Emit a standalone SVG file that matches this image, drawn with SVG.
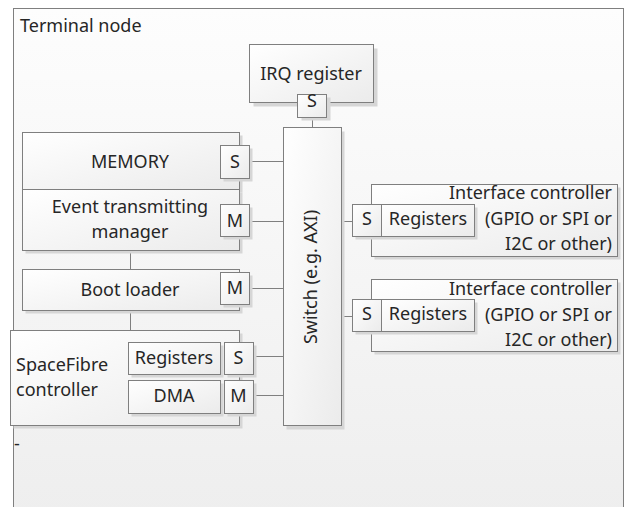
<svg xmlns="http://www.w3.org/2000/svg" width="625" height="507" viewBox="0 0 625 507">
<defs>
<linearGradient id="gFrame" x1="0" y1="0" x2="0" y2="1"><stop offset="0" stop-color="#fdfdfd"/><stop offset="1" stop-color="#eeeeee"/></linearGradient>
<linearGradient id="gBox" x1="0" y1="0" x2="1" y2="1"><stop offset="0" stop-color="#ffffff"/><stop offset="1" stop-color="#ebebeb"/></linearGradient>
</defs>
<style>
.frame{fill:url(#gFrame);stroke:#7f7f7f;stroke-width:1}
.box{fill:url(#gBox);stroke:#7f7f7f;stroke-width:1}
.sh{fill:#d6d6d6;stroke:none}
.ln{stroke:#7f7f7f;stroke-width:1;fill:none}
text{font-family:"Noto Sans","Open Sans","Liberation Sans",sans-serif;font-size:18px;fill:#262626}
.c{text-anchor:middle}
.r{text-anchor:end}
</style>
<g id="terminal-node">
<rect class="frame" x="13.5" y="8.5" width="610" height="510"/>
<text x="20" y="32">Terminal node</text>
<text x="14" y="450" font-size="8">-</text>
</g>
<g id="connectors">
<line class="ln" x1="312.5" y1="117" x2="312.5" y2="127"/>
<line class="ln" x1="249" y1="161.5" x2="283" y2="161.5"/>
<line class="ln" x1="249" y1="221.5" x2="283" y2="221.5"/>
<line class="ln" x1="249" y1="288.5" x2="283" y2="288.5"/>
<line class="ln" x1="253" y1="356.5" x2="283" y2="356.5"/>
<line class="ln" x1="253" y1="395.5" x2="283" y2="395.5"/>
<line class="ln" x1="341" y1="221.5" x2="352" y2="221.5"/>
<line class="ln" x1="341" y1="316.5" x2="352" y2="316.5"/>
<line class="ln" x1="130.5" y1="250" x2="130.5" y2="269"/>
<line class="ln" x1="130.5" y1="310" x2="130.5" y2="330"/>
</g>
<g id="irq-register">
<rect class="sh" x="253.5" y="48.5" width="124" height="58"/>
<rect class="box" x="249.5" y="44.5" width="124" height="58"/>
<text class="c" x="311" y="80">IRQ register</text>
<rect class="sh" x="301.5" y="97.5" width="29" height="23"/>
<rect class="box" x="297.5" y="94.5" width="29" height="23"/>
<text class="c" x="312" y="107">S</text>
</g>
<g id="switch">
<rect class="sh" x="286.5" y="131.5" width="58" height="298"/>
<rect class="box" x="283.5" y="127.5" width="58" height="298"/>
<text class="c" transform="translate(317 277) rotate(-90)">Switch (e.g. AXI)</text>
</g>
<g id="memory">
<rect class="sh" x="25.5" y="135.5" width="217" height="57"/>
<rect class="box" x="22.5" y="132.5" width="217" height="57"/>
<text class="c" x="130" y="168">MEMORY</text>
<rect class="sh" x="223.5" y="148.5" width="29" height="33"/>
<rect class="box" x="220.5" y="145.5" width="29" height="33"/>
<text class="c" x="235" y="168">S</text>
</g>
<g id="event-manager">
<rect class="sh" x="25.5" y="192.5" width="217" height="61"/>
<rect class="box" x="22.5" y="189.5" width="217" height="61"/>
<text class="c" x="130" y="213">Event transmitting</text>
<text class="c" x="130" y="238">manager</text>
<rect class="sh" x="223.5" y="207.5" width="29" height="32"/>
<rect class="box" x="220.5" y="204.5" width="29" height="32"/>
<text class="c" x="235" y="227">M</text>
</g>
<g id="boot-loader">
<rect class="sh" x="25.5" y="272.5" width="217" height="41"/>
<rect class="box" x="22.5" y="269.5" width="217" height="41"/>
<text class="c" x="130" y="296">Boot loader</text>
<rect class="sh" x="223.5" y="275.5" width="29" height="32"/>
<rect class="box" x="220.5" y="272.5" width="29" height="32"/>
<text class="c" x="235" y="294">M</text>
</g>
<g id="spacefibre-controller">
<rect class="sh" x="13.5" y="333.5" width="229" height="95"/>
<rect class="box" x="10.5" y="330.5" width="229" height="95"/>
<text x="16" y="371">SpaceFibre</text>
<text x="16" y="396">controller</text>
<rect class="sh" x="131.5" y="345.5" width="92" height="32"/>
<rect class="box" x="128.5" y="342.5" width="92" height="32"/>
<text class="c" x="174" y="364">Registers</text>
<rect class="sh" x="227.5" y="345.5" width="29" height="32"/>
<rect class="box" x="224.5" y="342.5" width="29" height="32"/>
<text class="c" x="238.5" y="364">S</text>
<rect class="sh" x="131.5" y="383.5" width="92" height="33"/>
<rect class="box" x="128.5" y="380.5" width="92" height="33"/>
<text class="c" x="174" y="402">DMA</text>
<rect class="sh" x="227.5" y="383.5" width="29" height="33"/>
<rect class="box" x="224.5" y="380.5" width="29" height="33"/>
<text class="c" x="238.5" y="402">M</text>
</g>
<g id="interface-controller-1">
<rect class="sh" x="374.5" y="187.5" width="246" height="72"/>
<rect class="box" x="371.5" y="184.5" width="246" height="72"/>
<text class="r" x="612" y="199">Interface controller</text>
<text class="r" x="612" y="225">(GPIO or SPI or</text>
<text class="r" x="612" y="250">I2C or other)</text>
<rect class="sh" x="355.5" y="207.5" width="122" height="32"/>
<rect class="box" x="352.5" y="204.5" width="29" height="32"/>
<rect class="box" x="381.5" y="204.5" width="93" height="32"/>
<text class="c" x="367" y="225">S</text>
<text class="c" x="428" y="225">Registers</text>
</g>
<g id="interface-controller-2" transform="translate(0 95)">
<rect class="sh" x="374.5" y="187.5" width="246" height="72"/>
<rect class="box" x="371.5" y="184.5" width="246" height="72"/>
<text class="r" x="612" y="200">Interface controller</text>
<text class="r" x="612" y="226">(GPIO or SPI or</text>
<text class="r" x="612" y="251">I2C or other)</text>
<rect class="sh" x="355.5" y="207.5" width="122" height="32"/>
<rect class="box" x="352.5" y="204.5" width="29" height="32"/>
<rect class="box" x="381.5" y="204.5" width="93" height="32"/>
<text class="c" x="367" y="225">S</text>
<text class="c" x="428" y="225">Registers</text>
</g>
</svg>
